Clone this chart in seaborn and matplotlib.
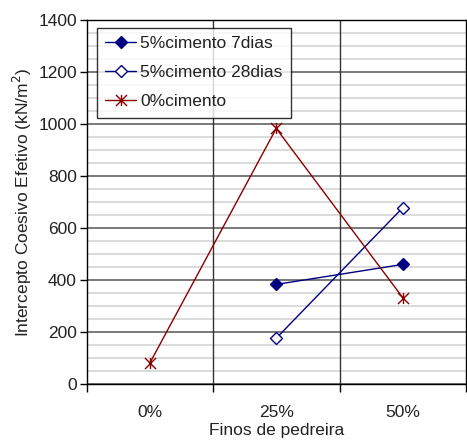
import numpy as np
import pandas as pd
import matplotlib
matplotlib.use("Agg")
import matplotlib.pyplot as plt
import seaborn as sns
from matplotlib.ticker import MultipleLocator, FixedLocator
from matplotlib.path import Path

categories = ["0%", "25%", "50%"]
s7 = [np.nan, 383, 460]
s28 = [np.nan, 176, 678]
s0 = [80, 983, 332]
series_names = ["5%cimento 7dias", "5%cimento 28dias", "0%cimento"]

sns.set_theme(style="white")
plt.rcParams['font.family'] = ['Liberation Sans', 'DejaVu Sans']
FS = 12.5

fig = plt.figure(figsize=(4.67, 4.43), dpi=100)
ax = fig.add_axes([86.5/467, 1 - 384/443, (466 - 86.5)/467, (384 - 20)/443])

pos = list(range(len(categories)))
df = pd.DataFrame({
    "x": pos * 3,
    "y": s7 + s28 + s0,
    "serie": [series_names[0]] * 3 + [series_names[1]] * 3 + [series_names[2]] * 3,
})

star = Path([(-1, -1), (1, 1), (-1, 1), (1, -1), (0, -1), (0, 1)],
            [Path.MOVETO, Path.LINETO, Path.MOVETO, Path.LINETO, Path.MOVETO, Path.LINETO])

navy = "#000080"
red = "#8B0000"
styles = {
    series_names[0]: dict(color=navy, marker="D", mfc=navy, mec=navy, ms=6.5),
    series_names[1]: dict(color=navy, marker="D", mfc="white", mec=navy, ms=6.5),
    series_names[2]: dict(color=red, marker=star, mfc=red, mec=red, ms=8),
}
for name in series_names:
    sub = df[df["serie"] == name].dropna()
    st = styles[name]
    sns.lineplot(data=sub, x="x", y="y", ax=ax, color=st["color"], lw=1.0,
                 marker=st["marker"], markersize=st["ms"],
                 markerfacecolor=st["mfc"], markeredgecolor=st["mec"],
                 markeredgewidth=1.0, label=name, zorder=5)

ax.set_xlim(-0.5, len(categories) - 0.5)
ax.set_ylim(0, 1400)
ax.yaxis.set_major_locator(MultipleLocator(200))
ax.yaxis.set_minor_locator(MultipleLocator(50))
ax.grid(which="minor", axis="y", color="#d4d4d4", lw=1.2, zorder=0)
ax.grid(which="major", axis="y", color="#6e6e6e", lw=1.3, zorder=1)
for b in np.arange(0.5, len(categories) - 0.5, 1.0):
    ax.axvline(b, color="#333333", lw=1.0, zorder=1)

ax.set_xticks(pos)
ax.set_xticklabels(categories, fontsize=FS)
ax.xaxis.set_minor_locator(FixedLocator(np.arange(-0.5, len(categories), 1.0)))
ax.tick_params(axis="x", which="major", length=0, pad=15, labelcolor="#222222")
ax.tick_params(axis="x", which="minor", length=6, width=1, color="black", direction="out", bottom=True)
ax.tick_params(axis="y", which="major", length=5, width=1, color="black", direction="out", left=True,
               labelsize=FS, pad=2, labelcolor="#222222")
ax.tick_params(axis="y", which="minor", length=0)

for sp in ax.spines.values():
    sp.set_color("black")
    sp.set_linewidth(1.0)

ax.set_xlabel("Finos de pedreira", fontsize=FS, labelpad=2, color="#222222")
ax.set_ylabel("Intercepto Coesivo Efetivo (kN/m$^2$)", fontsize=FS, labelpad=3, color="#222222")

leg = ax.legend(loc="upper left", bbox_to_anchor=(10/379.5, 1 - 7.5/364), fontsize=FS,
                frameon=True, fancybox=False, edgecolor="black", handlelength=1.8,
                labelspacing=0.8, borderpad=0.5, handletextpad=0.2, borderaxespad=0)
leg.get_frame().set_linewidth(1.0)
leg.set_zorder(10)
for t in leg.get_texts():
    t.set_color("#222222")

fig.savefig("out.png", dpi=100)
